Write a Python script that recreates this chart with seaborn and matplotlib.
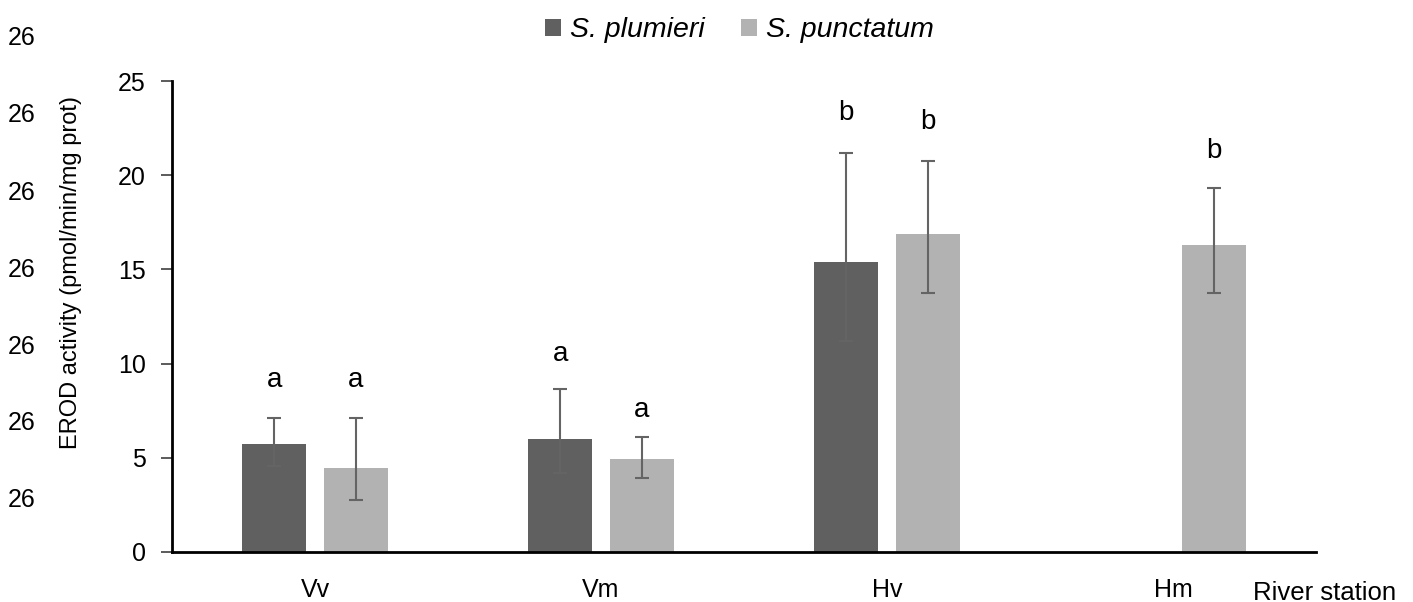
import numpy as np
import pandas as pd
import matplotlib
matplotlib.use("Agg")
import matplotlib.pyplot as plt
import seaborn as sns

# data
STATIONS = ["Vv", "Vm", "Hv", "Hm"]
SPECIES = ["S. plumieri", "S. punctatum"]
plumieri_mean = [5.72, 6.02, 15.41, np.nan]
plumieri_hi = [7.13, 8.67, 21.2, np.nan]
plumieri_lo = [4.56, 4.18, 11.2, np.nan]
plumieri_letter = ["a", "a", "b", ""]
punctatum_mean = [4.46, 4.94, 16.86, 16.28]
punctatum_hi = [7.10, 6.10, 20.74, 19.34]
punctatum_lo = [2.76, 3.93, 13.73, 13.73]
punctatum_letter = ["a", "a", "b", "b"]
# letter heights (text centre, in data units)
plumieri_letter_y = [9.13, 10.5, 23.3, np.nan]
punctatum_letter_y = [9.13, 7.54, 22.8, 21.3]

DARK = "#606060"
LIGHT = "#b2b2b2"

sns.set_style("white")
plt.rcParams['font.family'] = ['Liberation Sans', 'DejaVu Sans']
plt.rcParams['text.color'] = 'black'
plt.rcParams['axes.labelcolor'] = 'black'
plt.rcParams['xtick.color'] = 'black'
plt.rcParams['ytick.color'] = 'black'

df = pd.DataFrame({
    "station": STATIONS * 2,
    "species": [SPECIES[0]] * 4 + [SPECIES[1]] * 4,
    "erod": plumieri_mean + punctatum_mean,
})
df = df.dropna()

fig = plt.figure(figsize=(14.13, 6.02), dpi=100)
ax = fig.add_axes([0.1217, 0.0831, 0.8097, 0.7823])

sns.barplot(data=df, x="station", y="erod", hue="species", order=STATIONS, hue_order=SPECIES,
            palette=[DARK, LIGHT], width=0.57, gap=0.214, errorbar=None, ax=ax,
            edgecolor="none", linewidth=0)

means = [plumieri_mean, punctatum_mean]
his = [plumieri_hi, punctatum_hi]
los = [plumieri_lo, punctatum_lo]
letters = [plumieri_letter, punctatum_letter]
letter_y = [plumieri_letter_y, punctatum_letter_y]

bar_groups = list(ax.containers)
for k, cont in enumerate(bar_groups):
    for bar in cont:
        xc = bar.get_x() + bar.get_width() / 2
        i = int(round(xc))
        m = means[k][i]
        if np.isnan(m):
            continue
        ax.errorbar([xc], [m], yerr=[[m - los[k][i]], [his[k][i] - m]], fmt="none",
                    ecolor="#646464", elinewidth=1.5, capsize=5, capthick=1.5)
        ax.text(xc, letter_y[k][i], letters[k][i], ha="center", va="center", fontsize=20)

ax.set_xlim(-0.5, 3.5)
ax.set_ylim(0, 25)
ax.set_yticks(np.arange(0, 26, 5))
ax.set_xlabel("")
ax.set_ylabel("EROD activity (pmol/min/mg prot)", fontsize=17)
ax.yaxis.set_label_coords(-0.079, 0.594)
ax.tick_params(axis="y", left=True, length=8, width=1.2, labelsize=18, pad=11, color="#404040")
ax.tick_params(axis="x", bottom=False, labelsize=18, pad=15)
for s in ["top", "right"]:
    ax.spines[s].set_visible(False)
for s in ["left", "bottom"]:
    ax.spines[s].set_color("black")
    ax.spines[s].set_linewidth(2)

ax.legend(loc="center", bbox_to_anchor=(0.496, 1.108), ncol=2, frameon=False,
          prop={"style": "italic", "size": 20.5}, handlelength=0.55, handleheight=0.55,
          handletextpad=0.3, columnspacing=1.3)

fig.text(1253 / 1413, 0.004, "River station", fontsize=18.5, ha="left", va="baseline")

for yp in [38, 115, 193, 270, 347, 423, 500]:
    fig.text(8 / 1413, 1 - yp / 602, "26", fontsize=18, ha="left", va="center")

fig.savefig("out.png", dpi=100)
